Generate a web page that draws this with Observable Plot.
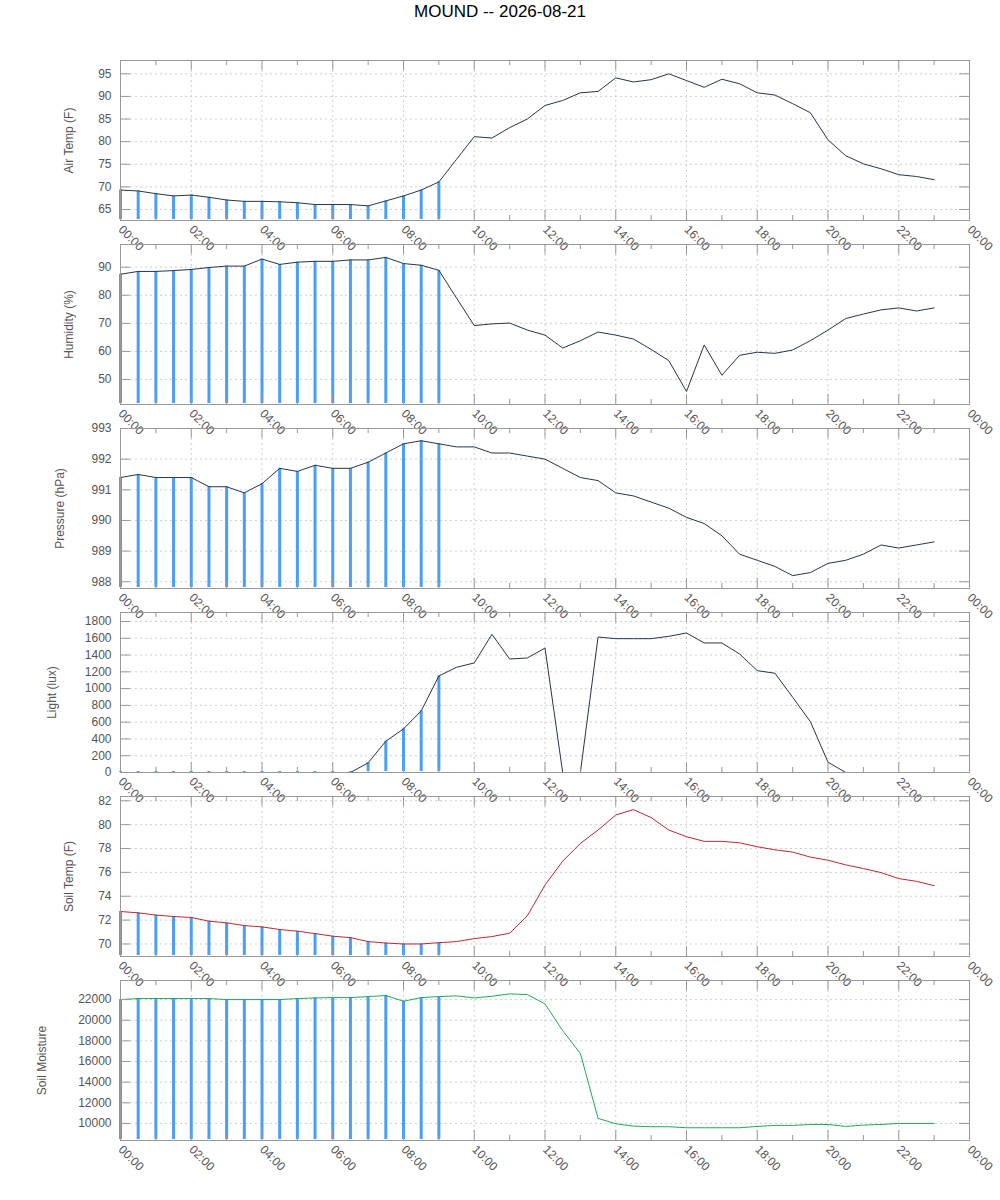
<!DOCTYPE html>
<html>
<head>
<meta charset="utf-8">
<script src="https://cdn.jsdelivr.net/npm/d3@7"></script>
<script src="https://cdn.jsdelivr.net/npm/@observablehq/plot@0.6"></script>
<style>
  body { margin: 0; background: #fff; font-family: "Liberation Sans", Arial, sans-serif; }
  #wrap { position: relative; width: 1000px; height: 1200px; overflow: hidden; }
  #title { position: absolute; top: 2px; left: 0; width: 1000px; text-align: center; font-size: 17px; line-height: 20px; color: #000; }
  .panel { position: absolute; left: 0; }
</style>
</head>
<body>
<div id="wrap"><div id="title">MOUND -- 2026-08-21</div></div>
<script>
const times = ["00:00","00:30","01:00","01:30","02:00","02:30","03:00","03:30","04:00","04:30",
  "05:00","05:30","06:00","06:30","07:00","07:30","08:00","08:30","09:00","09:30",
  "10:00","10:30","11:00","11:30","12:00","12:30","13:00","13:30","14:00","14:30",
  "15:00","15:30","16:00","16:30","17:00","17:30","18:00","18:30","19:00","19:30",
  "20:00","20:30","21:00","21:30","22:00","22:30","23:00"];

const airTemp = [69.3,69.1,68.5,68.0,68.2,67.7,67.1,66.8,66.8,66.7,
  66.5,66.1,66.1,66.1,65.8,66.9,68.0,69.3,71.1,76.1,
  81.1,80.8,83.1,85.0,88.0,89.1,90.8,91.1,94.1,93.2,
  93.7,95.0,93.5,92.0,93.8,92.8,90.8,90.3,88.4,86.4,
  80.4,76.9,75.1,74.0,72.7,72.3,71.6];

const humidity = [87.5,88.5,88.5,88.8,89.2,89.9,90.4,90.4,92.9,91.0,
  91.8,92.1,92.1,92.6,92.6,93.5,91.3,90.7,88.9,79.0,
  69.2,69.8,70.1,67.6,65.8,61.2,63.8,66.9,65.8,64.4,
  60.7,56.7,45.7,62.3,51.5,58.6,59.7,59.3,60.5,63.8,
  67.6,71.7,73.3,74.8,75.5,74.4,75.5];

const pressure = [991.4,991.5,991.4,991.4,991.4,991.1,991.1,990.9,991.2,991.7,
  991.6,991.8,991.7,991.7,991.9,992.2,992.5,992.6,992.5,992.4,
  992.4,992.2,992.2,992.1,992.0,991.7,991.4,991.3,990.9,990.8,
  990.6,990.4,990.1,989.9,989.5,988.9,988.7,988.5,988.2,988.3,
  988.6,988.7,988.9,989.2,989.1,989.2,989.3];

const light = [0,0,0,0,0,0,0,0,0,0,
  0,0,0,0,115,373,520,734,1151,1254,
  1306,1647,1353,1365,1484,0,0,1615,1595,1595,
  1595,1623,1663,1544,1544,1413,1214,1183,897,607,
  123,0,0,0,0,0,0];

const soilTemp = [72.72,72.61,72.42,72.30,72.22,71.91,71.77,71.54,71.43,71.21,
  71.07,70.87,70.65,70.53,70.20,70.08,70.00,70.00,70.11,70.20,
  70.45,70.62,70.90,72.36,74.94,76.94,78.43,79.55,80.81,81.26,
  80.59,79.55,78.99,78.60,78.60,78.48,78.15,77.89,77.70,77.28,
  77.02,76.63,76.32,75.98,75.48,75.25,74.89];

const soilMoisture = [22000,22100,22100,22100,22100,22100,22000,22000,22000,22000,
  22100,22160,22190,22190,22290,22390,21840,22190,22290,22360,
  22160,22320,22550,22490,21580,18990,16780,10490,9970,9740,
  9680,9680,9580,9580,9580,9580,9710,9810,9810,9900,
  9900,9710,9840,9900,10000,10000,10000];

const barUntil = "09:00";

const xTickHours = [0,2,4,6,8,10,12,14,16,18,20,22,24];
const xTickLabels = ["00:00","02:00","04:00","06:00","08:00","10:00","12:00","14:00","16:00","18:00","20:00","22:00","00:00"];
const xMinorHours = [1,3,5,7,9,11,13,15,17,19,21,23];

const airTicks = [65,70,75,80,85,90,95];
const humidityTicks = [50,60,70,80,90];
const pressureTicks = [988,989,990,991,992,993];
const lightTicks = [0,200,400,600,800,1000,1200,1400,1600,1800];
const soilTempTicks = [70,72,74,76,78,80,82];
const soilMoistureTicks = [10000,12000,14000,16000,18000,20000,22000];

const panels = [
  {label: "Air Temp (F)", values: airTemp, domain: [62.57, 97.94], ticks: airTicks, color: "#26364a", top: 60, labelDx: -51},
  {label: "Humidity (%)", values: humidity, domain: [41.07, 98.1], ticks: humidityTicks, color: "#26364a", top: 244, labelDx: -51},
  {label: "Pressure (hPa)", values: pressure, domain: [987.78, 993.0], ticks: pressureTicks, color: "#26364a", top: 428, labelDx: -60},
  {label: "Light (lux)", values: light, domain: [0, 1907], ticks: lightTicks, color: "#26364a", top: 612, labelDx: -68},
  {label: "Soil Temp (F)", values: soilTemp, domain: [68.95, 82.36], ticks: soilTempTicks, color: "#c0282a", top: 796, labelDx: -51},
  {label: "Soil Moisture", values: soilMoisture, domain: [8346, 23849], ticks: soilMoistureTicks, color: "#1faa55", top: 980, labelDx: -78}
];

const toHours = t => { const [h, m] = t.split(":").map(Number); return h + m / 60; };

const W = 1000, ML = 120, MR = 31, MT = 10, MB = 50, PH = 160;
const PW = W - ML - MR;
const gridColor = "#cfcfcf", axisColor = "#999", textColor = "#555", barColor = "#4a9ff5";
const font = "'Liberation Sans', Arial, sans-serif";

const wrap = document.getElementById("wrap");

for (const cfg of panels) {
  const data = times.map((t, i) => ({t, h: toHours(t), v: cfg.values[i]}));
  const bars = data.filter(d => d.t <= barUntil);
  const y0 = cfg.domain[0];
  const chart = Plot.plot({
    width: W,
    height: PH + MT + MB,
    marginTop: MT, marginBottom: MB, marginLeft: ML, marginRight: MR,
    x: {type: "linear", domain: [0, 24], axis: null},
    y: {type: "linear", domain: cfg.domain, axis: null},
    style: {background: "transparent", overflow: "visible", fontFamily: font, fontSize: "12px"},
    marks: [
      Plot.ruleX(xTickHours, {stroke: gridColor, strokeDasharray: "2,3"}),
      Plot.ruleY(cfg.ticks, {stroke: gridColor, strokeDasharray: "2,3"}),
      Plot.ruleX(bars, {x: "h", y1: y0, y2: "v", stroke: barColor, strokeWidth: 3, insetTop: -1}),
      Plot.line(data, {x: "h", y: "v", stroke: cfg.color, strokeWidth: 1}),
      Plot.frame({stroke: axisColor}),
      Plot.ruleY(cfg.ticks, {stroke: axisColor, insetRight: PW - 10}),
      Plot.ruleY(cfg.ticks, {stroke: axisColor, insetLeft: PW - 10}),
      Plot.ruleX(xTickHours, {stroke: axisColor, insetBottom: PH - 10}),
      Plot.ruleX(xMinorHours, {stroke: axisColor, insetBottom: PH - 5}),
      Plot.ruleX(xTickHours, {stroke: axisColor, insetTop: PH - 10}),
      Plot.ruleX(xMinorHours, {stroke: axisColor, insetTop: PH - 5}),
      Plot.text(cfg.ticks, {y: d => d, text: d => String(d), frameAnchor: "left", dx: -9, textAnchor: "end", fill: textColor, fontSize: 12}),
      Plot.text(xTickHours, {x: d => d, text: (d, i) => xTickLabels[i], frameAnchor: "bottom", rotate: 45, textAnchor: "start", lineAnchor: "middle", dy: 7, fill: textColor, fontSize: 12}),
      Plot.text([cfg.label], {text: d => d, frameAnchor: "left", dx: cfg.labelDx, rotate: -90, textAnchor: "middle", fill: textColor, fontSize: 12})
    ]
  });
  chart.classList.add("panel");
  chart.style.top = (cfg.top - MT) + "px";
  wrap.appendChild(chart);
}
</script>
</body>
</html>
